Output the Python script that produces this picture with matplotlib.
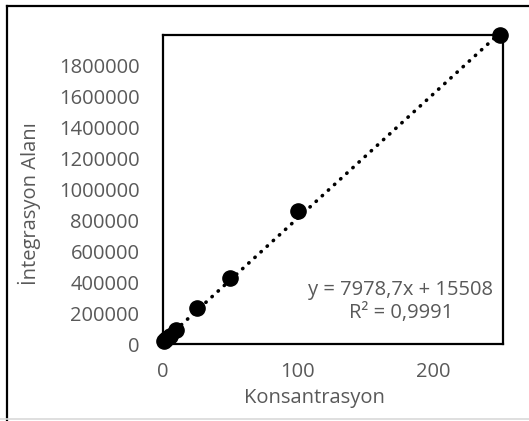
import numpy as np
import matplotlib.pyplot as plt
from matplotlib.lines import Line2D

# calibration data
konsantrasyon = [1, 2.5, 5, 10, 25, 50, 100, 250]
alan = [18000, 32000, 52000, 92000, 230000, 427000, 861000, 1995000]
slope, intercept = 7978.7, 15508
x_ticks = [0, 100, 200]
y_ticks = [0, 200000, 400000, 600000, 800000, 1000000, 1200000, 1400000, 1600000, 1800000]

plt.rcParams['font.family'] = ['Open Sans', 'DejaVu Sans']
gray = '#595959'
fs = 14.5

fig = plt.figure(figsize=(5.29, 4.21), dpi=100)
ax = fig.add_axes([163 / 529, 77 / 421, 340 / 529, 309 / 421])

xs = np.linspace(0, 250, 200)
ax.plot(xs, slope * xs + intercept, color='black', linestyle=(0, (0.1, 2.2)),
        linewidth=2.6, dash_capstyle='round', zorder=2)
ax.scatter(konsantrasyon, alan, s=120, color='black', zorder=3, clip_on=False)

ax.set_xlim(0, 252)
ax.set_ylim(0, 1995000)
ax.set_xticks(x_ticks)
ax.set_yticks(y_ticks)
ax.set_xticklabels([str(t) for t in x_ticks])
ax.set_yticklabels([str(t) for t in y_ticks])
ax.tick_params(length=0, labelsize=fs, colors=gray)
ax.tick_params(axis='x', pad=13)
ax.tick_params(axis='y', pad=17)
for sp in ax.spines.values():
    sp.set_linewidth(1.6)
    sp.set_color('black')

ax.set_xlabel('Konsantrasyon', fontsize=fs, color=gray)
ax.set_ylabel('İntegrasyon Alanı', fontsize=fs, color=gray)
ax.xaxis.set_label_coords((314 - 163) / 340, -(388 - 344) / 309)
ax.yaxis.set_label_coords(-(163 - 41) / 340, (344 - 204) / 309)

ax.text(0.70, 0.139, 'y = 7978,7x + 15508\nR² = 0,9991', transform=ax.transAxes,
        ha='center', va='center', fontsize=fs, color=gray, linespacing=1.2)

# outer chart border (left/top black, bottom light gray)
fig.add_artist(Line2D([7 / 529, 7 / 529], [0, 1 - 6 / 421], color='black', linewidth=1.6))
fig.add_artist(Line2D([7 / 529, 1], [1 - 6 / 421, 1 - 6 / 421], color='black', linewidth=1.6))
fig.add_artist(Line2D([0, 1], [2 / 421, 2 / 421], color='#d9d9d9', linewidth=1.2))

fig.savefig('out.png', dpi=100)
